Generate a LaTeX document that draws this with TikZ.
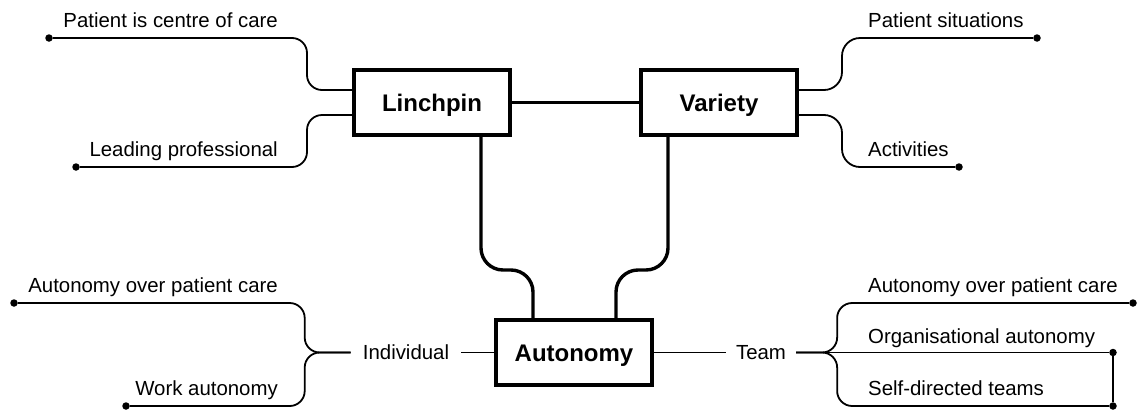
\documentclass[tikz,border=0pt]{standalone}
\usepackage{fontspec}
\setmainfont{Liberation Sans}
\begin{document}
\begin{tikzpicture}[x=1pt,y=-1pt,
  box/.style={draw, line width=3.6pt, minimum width=156.4pt, minimum height=65.4pt, inner sep=0pt,
    font=\fontsize{24}{28}\selectfont\bfseries, text height=17.2pt, text depth=0pt},
  thinline/.style={line width=1.8pt, rounded corners=15pt},
  thickline/.style={line width=3.4pt, rounded corners=22pt},
  lbl/.style={inner sep=0pt, font=\fontsize{20.4}{24}\selectfont},
  dot/.style={circle, fill, inner sep=0pt, minimum size=7.5pt},
]
\useasboundingbox (0,0) rectangle (1146,410);

% main boxes
\node[box] (L) at (432,102.5) {Linchpin};
\node[box] (V) at (719,102.5) {Variety};
\node[box] (A) at (574,352.5) {Autonomy};

% main connectors
\draw[thickline] (L) -- (V);
\draw[thickline] ([xshift=49pt]L.south) -- ++(0,133) -| ([xshift=-41pt]A.north);
\draw[thickline] ([xshift=-51pt]V.south) -- ++(0,133) -| ([xshift=42pt]A.north);

% dots
\node[dot] (d1) at (49,38) {};
\node[dot] (d2) at (76,167) {};
\node[dot] (d3) at (1037,38) {};
\node[dot] (d4) at (959,167) {};
\node[dot] (d5) at (14,303) {};
\node[dot] (d6) at (126,406) {};
\node[dot] (d7) at (1133,303) {};
\node[dot] (d8) at (1113,406) {};
\node[dot] (d9) at (1113,352.5) {};

% labels
\node[lbl, anchor=base east] (t1) at (278,27) {Patient is centre of care};
\node[lbl, anchor=base east] (t2) at (278,156) {Leading professional};
\node[lbl, anchor=base west] (t3) at (868,27) {Patient situations};
\node[lbl, anchor=base west] (t4) at (868,156) {Activities};
\node[lbl, anchor=base east] (t5) at (278,292) {Autonomy over patient care};
\node[lbl, anchor=base east] (t6) at (278,395) {Work autonomy};
\node[lbl, anchor=base west] (t7) at (868,292) {Autonomy over patient care};
\node[lbl, anchor=base west] (t8) at (868,343) {Organisational autonomy};
\node[lbl, anchor=base west] (t9) at (868,395) {Self-directed teams};

\node[lbl, inner xsep=12pt, text height=14.6pt, text depth=0pt] (ind) at (406,352.5) {Individual};
\node[lbl, inner xsep=10pt, text height=14.6pt, text depth=0pt] (team) at (761,352.5) {Team};

% Linchpin branches
\draw[thinline] ([yshift=12.5pt]L.west) -- ++(-45,0) |- (d1);
\draw[thinline] ([yshift=-12.5pt]L.west) -- ++(-45,0) |- (d2);

% Variety branches
\draw[thinline, rounded corners=18pt] ([yshift=12.5pt]V.east) -- ++(43,0) |- (d3);
\draw[thinline, rounded corners=18pt] ([yshift=-12.5pt]V.east) -- ++(43,0) |- (d4);

% Autonomy - Individual
\draw[thinline] (A.west) -- (ind.east);
\draw[thinline] (ind.west) -- ++(-46,0) |- (d5);
\draw[thinline] (ind.west) -- ++(-46,0) |- (d6);

% Autonomy - Team
\draw[thinline] (A.east) -- (team.west);
\draw[thinline] (team.east) -- ++(41,0) |- (d7);
\draw[thinline] (team.east) -- ++(41,0) |- (d8);
\draw[thinline] (team.east) -- (d9);
\draw[thinline] (d9) -- (d8);
\end{tikzpicture}
\end{document}
